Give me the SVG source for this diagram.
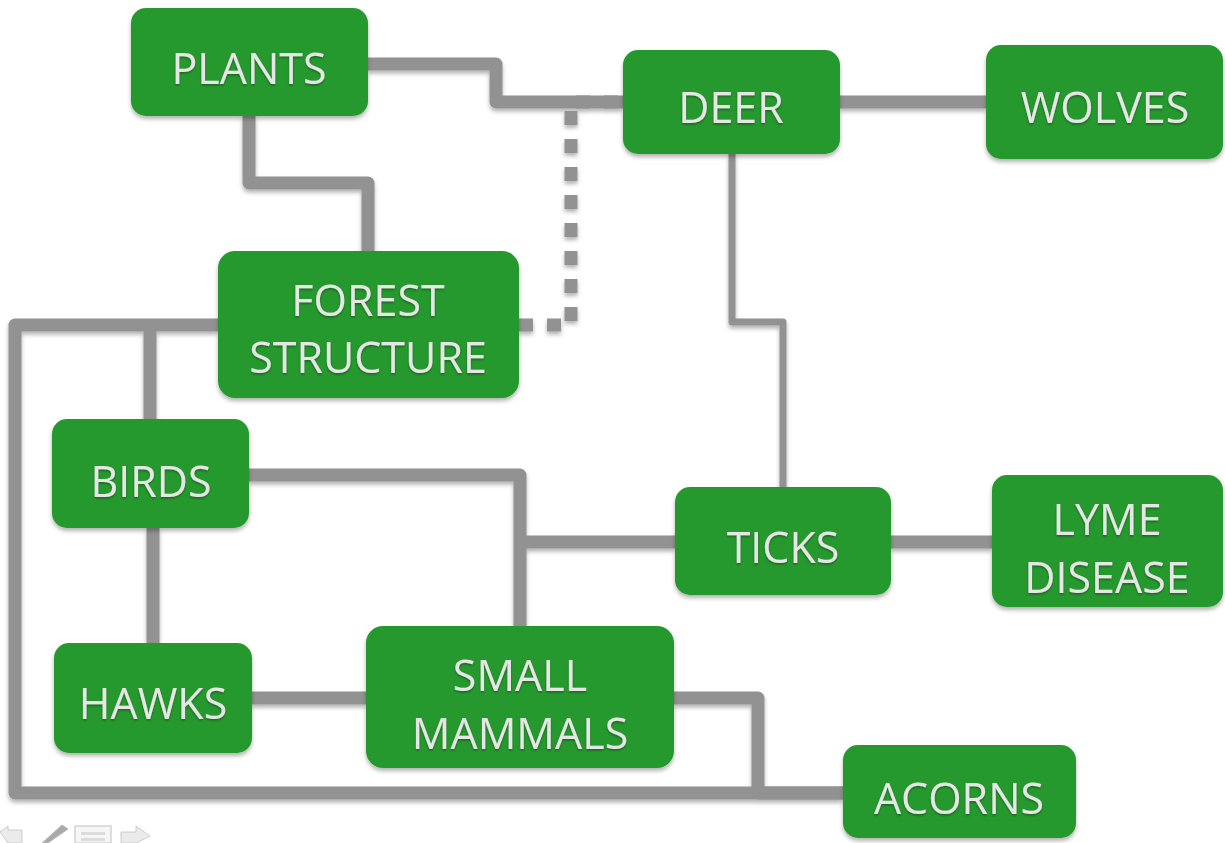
<svg xmlns="http://www.w3.org/2000/svg" width="1225" height="843" viewBox="0 0 1225 843">
<defs>
<filter id="sh" x="-10%" y="-10%" width="120%" height="130%">
<feDropShadow dx="0" dy="3" stdDeviation="2" flood-color="#000" flood-opacity="0.3"/>
</filter>
<filter id="tsh" x="-5%" y="-5%" width="110%" height="120%">
<feDropShadow dx="0" dy="1.5" stdDeviation="1" flood-color="#000" flood-opacity="0.35"/>
</filter>
</defs>
<style>
.node rect{fill:#27992f;filter:url(#sh)}
.node text{fill:#e6e6e6;font-family:"Open Sans","Liberation Sans",sans-serif;font-size:43px;text-anchor:middle;filter:url(#tsh)}
.c{fill:none;stroke:#929292;stroke-width:13;stroke-linejoin:round}
.thin{stroke-width:7}
.dot{stroke-dasharray:14 14;stroke-linejoin:miter}
</style>
<rect width="1225" height="843" fill="#ffffff"/>
<g id="connectors" filter="url(#sh)">
<path class="c" d="M368 64 H496 V102 H623"/>
<path class="c dot" d="M519 325 H571 V102 H623"/>
<path class="c" d="M249 116 V183 H368 V251"/>
<path class="c thin" d="M732 154 V322 H783 V487"/>
<path class="c" d="M840 102 H986"/>
<path class="c" d="M891 542 H992"/>
<path class="c" d="M249 475 H520 V626"/>
<path class="c" d="M520 542 H675"/>
<path class="c" d="M153 528 V643"/>
<path class="c" d="M252 698 H366"/>
<path class="c" d="M674 698 H758 V793 H843"/>
<path class="c" d="M218 325 H15 V793 H843"/>
<path class="c" d="M150 325 V419"/>
</g>
<g id="plants" class="node"><rect x="131" y="8" width="237" height="108" rx="15"/><text x="249" y="84">PLANTS</text></g>
<g id="deer" class="node"><rect x="623" y="50" width="217" height="104" rx="15"/><text x="731" y="123">DEER</text></g>
<g id="wolves" class="node"><rect x="986" y="45" width="237" height="114" rx="15"/><text x="1105" y="123">WOLVES</text></g>
<g id="forest" class="node"><rect x="218" y="251" width="301" height="147" rx="17"/><text x="368" y="316">FOREST</text><text x="368" y="373">STRUCTURE</text></g>
<g id="birds" class="node"><rect x="52" y="419" width="197" height="109" rx="15"/><text x="151" y="497">BIRDS</text></g>
<g id="ticks" class="node"><rect x="675" y="487" width="216" height="108" rx="15"/><text x="783" y="563">TICKS</text></g>
<g id="lyme" class="node"><rect x="992" y="475" width="231" height="132" rx="15"/><text x="1107" y="535">LYME</text><text x="1107" y="593">DISEASE</text></g>
<g id="hawks" class="node"><rect x="54" y="643" width="198" height="110" rx="15"/><text x="153" y="719">HAWKS</text></g>
<g id="smallmammals" class="node"><rect x="366" y="626" width="308" height="142" rx="17"/><text x="520" y="691">SMALL</text><text x="520" y="749">MAMMALS</text></g>
<g id="acorns" class="node"><rect x="843" y="745" width="233" height="93" rx="15"/><text x="959" y="814">ACORNS</text></g>
<g id="controls" opacity="0.5">
<path d="M0 832 L8 826 V830 H22 V843 H8 Z" fill="#d8d8d8" stroke="#9a9a9a" stroke-width="1"/>
<path d="M42 843 L62 825 L68 829 L48 843 Z" fill="#555" stroke="#777" stroke-width="1"/>
<rect x="75" y="826" width="36" height="17" fill="#eeeeee" stroke="#aaaaaa" stroke-width="1.5"/>
<rect x="81" y="832" width="24" height="3" fill="#bbbbbb"/>
<rect x="81" y="838" width="24" height="3" fill="#bbbbbb"/>
<path d="M121 832 H136 V826 L150 836 L136 843 V843 H121 Z" fill="#d8d8d8" stroke="#9a9a9a" stroke-width="1"/>
</g>
</svg>
